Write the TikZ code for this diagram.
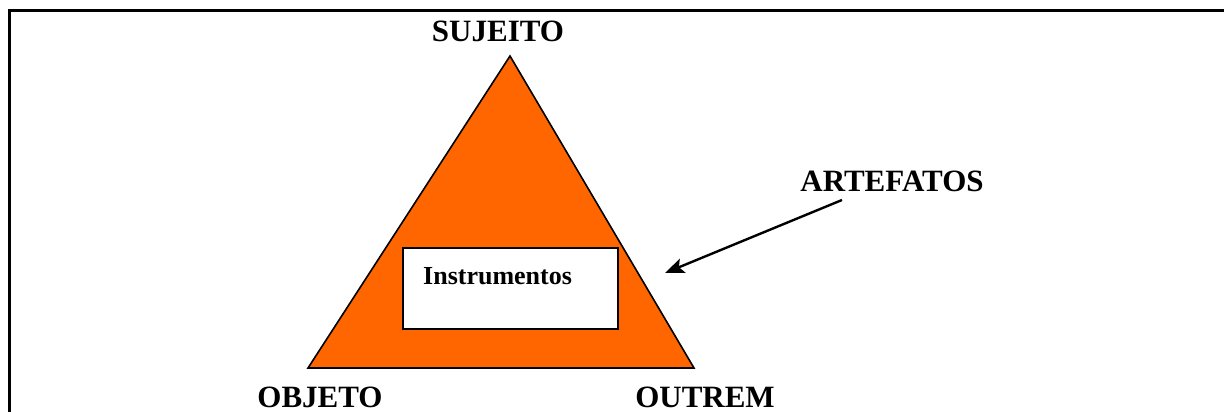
\documentclass[tikz,border=0pt]{standalone}
\usepackage{fontspec}
\setmainfont{Liberation Serif}
\usetikzlibrary{arrows.meta}
\definecolor{tri}{HTML}{FF6600}
\tikzset{
  lbl/.style={font=\fontsize{31}{31}\selectfont\bfseries, anchor=base, inner sep=0pt},
  frame/.style={line width=3pt},
  tribox/.style={fill=tri, draw=black, line width=1.6pt, line join=miter},
  inbox/.style={fill=white, draw=black, line width=1.6pt},
  ptr/.style={line width=2.4pt, -{Stealth[length=19pt,width=15pt,inset=4pt]}}
}
\begin{document}
\begin{tikzpicture}[x=1pt,y=-1pt]
\useasboundingbox (0,0) rectangle (1224,412);
% frame (top and left edges visible)
\coordinate (fbl) at (9.5,412);
\coordinate (ftl) at (9.5,11);
\coordinate (ftr) at (1224,11);
\draw[frame] (fbl) -- (ftl) -- (ftr);
% triangle
\coordinate (apex) at (510,56);
\coordinate (bl) at (308,368);
\coordinate (br) at (694,368);
\draw[tribox] (apex) -- (bl) -- (br) -- cycle;
% inner box
\draw[inbox] (403,248) rectangle (618,329);
\node[font=\fontsize{26}{26}\selectfont\bfseries, anchor=base west, inner sep=0pt] (instr) at (423,284) {Instrumentos};
% labels
\node[lbl] (suj) at (498,42) {SUJEITO};
\node[lbl] (obj) at (320,407) {OBJETO};
\node[lbl] (out) at (705,407) {OUTREM};
\node[lbl] (art) at (892,191) {ARTEFATOS};
% arrow
\coordinate (as) at (842,200);
\coordinate (ae) at (665,273);
\draw[ptr] (as) -- (ae);
\end{tikzpicture}
\end{document}
